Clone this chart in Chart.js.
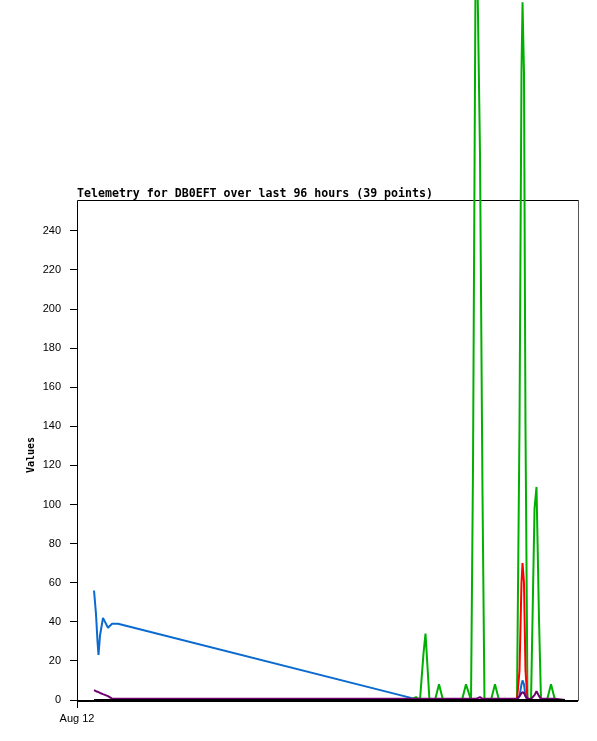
<!DOCTYPE html>
<html>
<head>
<meta charset="utf-8">
<script src="https://cdn.jsdelivr.net/npm/chart.js"></script>
<style>
  html, body { margin: 0; padding: 0; background: #fff; }
</style>
</head>
<body>
<canvas id="telemetryChart" width="597" height="741"></canvas>
<script>
// hours since Aug 12 00:00
const hours = [3.26, 3.64, 3.93, 4.12, 4.41, 4.98, 5.94, 6.71, 7.86,
    63.81, 64.96, 65.72, 66.40, 66.78, 67.54, 68.60, 69.37, 70.13,
    73.77, 74.54, 75.50, 75.88, 76.46, 77.22, 77.70, 78.08,
    79.33, 80.09, 80.86,
    84.31, 84.79, 85.17, 85.37, 85.65, 85.94, 86.32,
    87.00, 87.67, 88.05, 88.53, 88.91,
    90.06, 90.83, 91.59, 93.51];

const blueVals = [56, 44, 30, 23, 33, 42, 37, 39, 39,
    1.2, 0, 0, 0, 0, 0, 0, 0, 0,
    0, 0, 0, 0, 0, 0, 0, 0,
    0, 0, 0,
    0, 2, 8, 10, 8, 2, 0,
    0, 0, 0, 0, 0,
    0, 0, 0, 0];
const purpleVals = [5, 4.5, 4.2, 4, 3.6, 3, 2, 0.7, 0.6,
    0.6, 0.6, 0.6, 0.6, 0.6, 0.6, 0.6, 0.6, 0.6,
    0.6, 0.6, 0.6, 0.6, 0.6, 1.5, 0.6, 0.6,
    0.6, 0.6, 0.6,
    0.6, 2, 3.5, 4, 3.5, 2, 0.6,
    0.6, 2.5, 4.5, 2, 0.6,
    0.6, 0.6, 0.6, 0];
const blackVals = hours.map(() => 0);
const redVals = [0, 0, 0, 0, 0, 0, 0, 0, 0,
    0, 0, 0, 0, 0, 0, 0, 0, 0,
    0, 0, 0, 0, 0, 0, 0, 0,
    0, 0, 0,
    0, 15, 60, 70, 60, 15, 0,
    0, 0, 0, 0, 0,
    0, 0, 0, 0];
const greenVals = [0, 0, 0, 0, 0, 0, 0, 0, 0,
    0, 1.5, 0, 24, 34, 0, 0, 8, 0,
    0, 8, 0, 119, 420, 280, 106, 0,
    0, 8, 0,
    0, 140, 321, 357, 321, 140, 0,
    0, 98, 109, 41, 0,
    0, 8, 0, 0];

const yTicks = [0, 20, 40, 60, 80, 100, 120, 140, 160, 180, 200, 220, 240];
const xTickLabels = ['Aug 12'];
const chartTitle = 'Telemetry for DB0EFT over last 96 hours (39 points)';
const yTitle = 'Values';

function pts(vals) {
    return hours.map((h, i) => ({ x: h, y: vals[i] }));
}

function series(vals, color) {
    return {
        data: pts(vals),
        borderColor: color,
        backgroundColor: color,
        borderWidth: 2,
        borderJoinStyle: 'bevel',
        pointRadius: 0,
        tension: 0,
        clip: false
    };
}

// frame + title + y label
const decor = {
    id: 'decor',
    beforeDatasetsDraw(chart) {
        const { ctx, chartArea: a } = chart;
        ctx.save();
        ctx.lineWidth = 1;
        ctx.strokeStyle = '#000';
        ctx.beginPath();
        ctx.moveTo(a.left + 0.5, a.bottom);
        ctx.lineTo(a.left + 0.5, a.top + 0.5);
        ctx.lineTo(a.right, a.top + 0.5);
        ctx.stroke();
        ctx.strokeStyle = '#555';
        ctx.beginPath();
        ctx.moveTo(a.right + 0.5, a.top);
        ctx.lineTo(a.right + 0.5, a.bottom + 1);
        ctx.stroke();
        ctx.lineWidth = 2;
        ctx.strokeStyle = '#000';
        ctx.beginPath();
        ctx.moveTo(a.left, a.bottom + 1);
        ctx.lineTo(a.right, a.bottom + 1);
        ctx.stroke();
        ctx.restore();
    },
    afterDraw(chart) {
        const { ctx, chartArea: a } = chart;
        ctx.save();
        ctx.fillStyle = '#000';
        ctx.font = 'bold 11.6px "DejaVu Sans Mono"';
        ctx.textAlign = 'left';
        ctx.textBaseline = 'alphabetic';
        ctx.fillText(chartTitle, a.left, a.top - 3);
        ctx.translate(31, 455);
        ctx.rotate(-Math.PI / 2);
        ctx.font = 'bold 10px "DejaVu Sans Mono"';
        ctx.textAlign = 'center';
        ctx.textBaseline = 'middle';
        ctx.fillText(yTitle, 0, 0);
        ctx.restore();
    }
};

const ctx = document.getElementById('telemetryChart').getContext('2d');
const chart = new Chart(ctx, {
    type: 'line',
    data: {
        datasets: [
            series(blackVals, '#000000'),
            series(purpleVals, '#700070'),
            series(blueVals, '#0a6ad0'),
            series(redVals, '#ff0000'),
            series(greenVals, '#00b000')
        ]
    },
    options: {
        responsive: false,
        animation: false,
        devicePixelRatio: 1,
        layout: { padding: { left: 0, right: 19, top: 200, bottom: 0 } },
        plugins: { legend: { display: false }, tooltip: { enabled: false }, title: { display: false } },
        scales: {
            x: {
                type: 'linear',
                min: 0,
                max: 96,
                afterBuildTicks(scale) { scale.ticks = [{ value: 0 }]; },
                afterFit(scale) { scale.height = 41; },
                grid: { drawOnChartArea: false, tickLength: 8, color: '#000', lineWidth: 1 },
                border: { display: false },
                ticks: {
                    autoSkip: false,
                    maxRotation: 0,
                    padding: 4,
                    color: '#000',
                    font: { family: '"Liberation Sans"', size: 11 },
                    callback: (v, i) => xTickLabels[i]
                }
            },
            y: {
                min: 0,
                max: 255.8,
                afterBuildTicks(scale) { scale.ticks = yTicks.map(v => ({ value: v })); },
                afterFit(scale) { scale.width = 77; },
                grid: { drawOnChartArea: false, tickLength: 7, color: '#000', lineWidth: 1 },
                border: { display: false },
                ticks: {
                    padding: 9,
                    color: '#000',
                    font: { family: '"Liberation Sans"', size: 11 }
                }
            }
        }
    },
    plugins: [decor]
});
</script>
</body>
</html>
